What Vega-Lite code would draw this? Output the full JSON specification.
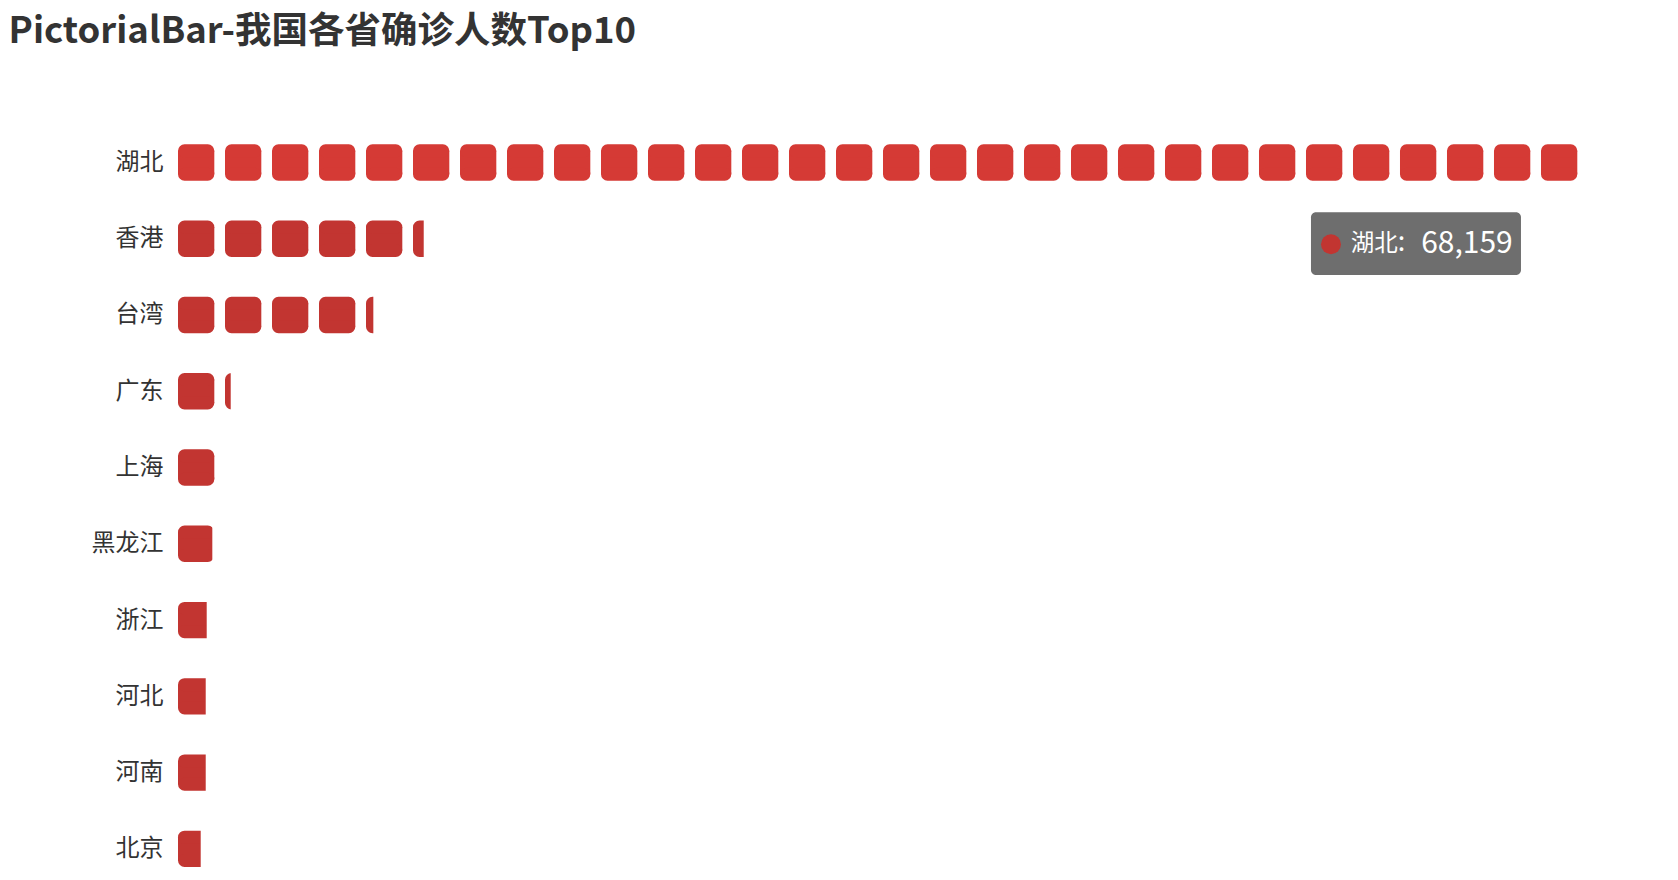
{
  "$schema": "https://vega.github.io/schema/vega-lite/v6.json",
  "autosize": {"type": "none"},
  "padding": {"left": 178, "top": 139.6, "right": 62, "bottom": 5},
  "width": 1438,
  "height": 732.1,
  "background": "white",
  "config": {"view": {"stroke": null}},
  "title": {
    "text": "PictorialBar-我国各省确诊人数Top10",
    "anchor": "start",
    "frame": "group",
    "dx": -169.4,
    "offset": 60.5,
    "baseline": "alphabetic",
    "font": "Noto Sans CJK SC",
    "fontSize": 36.5,
    "fontWeight": "bold",
    "color": "#333333"
  },
  "data": {
    "values": [
      {"province": "湖北", "value": 68159},
      {"province": "香港", "value": 11961},
      {"province": "台湾", "value": 9508},
      {"province": "广东", "value": 2566},
      {"province": "上海", "value": 2050},
      {"province": "黑龙江", "value": 1670},
      {"province": "浙江", "value": 1397},
      {"province": "河北", "value": 1349},
      {"province": "河南", "value": 1349},
      {"province": "北京", "value": 1105}
    ]
  },
  "layer": [
    {
      "mark": {"type": "rule", "strokeWidth": 23.3, "strokeCap": "butt", "strokeDash": [36.3, 10.7], "x2Offset": 36.3},
      "encoding": {
        "y": {
          "field": "province",
          "type": "nominal",
          "sort": null,
          "scale": {"type": "point", "padding": 0.3},
          "axis": {
            "title": null,
            "domain": false,
            "ticks": false,
            "grid": false,
            "labelPadding": 15,
            "labelFont": "Noto Sans CJK SC",
            "labelFontSize": 24,
            "labelColor": "#333333"
          }
        },
        "x": {"datum": 0, "type": "quantitative", "scale": {"domain": [0, 70000], "nice": false, "zero": true}, "axis": null},
        "x2": {"field": "value", "type": "quantitative"},
        "color": {"condition": {"test": "datum.province === '湖北'", "value": "#d53a35"}, "value": "#c23531"}
      }
    },
    {
      "mark": {"type": "rule", "strokeWidth": 13, "strokeCap": "round", "strokeDash": [23.3, 23.7], "xOffset": 6.5, "x2Offset": 29.8, "yOffset": -11.65},
      "encoding": {
        "y": {"field": "province", "type": "nominal", "sort": null},
        "x": {"datum": 0, "type": "quantitative"},
        "x2": {"field": "value", "type": "quantitative"},
        "color": {"condition": {"test": "datum.province === '湖北'", "value": "#d53a35"}, "value": "#c23531"}
      }
    },
    {
      "mark": {"type": "rule", "strokeWidth": 13, "strokeCap": "round", "strokeDash": [23.3, 23.7], "xOffset": 6.5, "x2Offset": 29.8, "yOffset": 11.65},
      "encoding": {
        "y": {"field": "province", "type": "nominal", "sort": null},
        "x": {"datum": 0, "type": "quantitative"},
        "x2": {"field": "value", "type": "quantitative"},
        "color": {"condition": {"test": "datum.province === '湖北'", "value": "#d53a35"}, "value": "#c23531"}
      }
    },
    {
      "mark": {"type": "bar", "height": 42, "x2Offset": 42, "color": "white"},
      "encoding": {
        "y": {"field": "province", "type": "nominal", "sort": null},
        "x": {"field": "value", "type": "quantitative"},
        "x2": {"field": "value", "type": "quantitative"}
      }
    },
    {
      "transform": [{"filter": "datum.province === '湖北'"}],
      "mark": {"type": "bar", "height": 62.7, "xOffset": -267.2, "x2Offset": -57.2, "yOffset": 81.2, "cornerRadius": 5, "color": "#6e6e6e"},
      "encoding": {
        "y": {"field": "province", "type": "nominal", "sort": null},
        "x": {"field": "value", "type": "quantitative"},
        "x2": {"field": "value", "type": "quantitative"}
      }
    },
    {
      "transform": [{"filter": "datum.province === '湖北'"}],
      "mark": {"type": "point", "shape": "circle", "filled": true, "size": 400, "opacity": 1, "color": "#c23531", "xOffset": -247.2, "yOffset": 81.8},
      "encoding": {
        "y": {"field": "province", "type": "nominal", "sort": null},
        "x": {"field": "value", "type": "quantitative"}
      }
    },
    {
      "transform": [{"filter": "datum.province === '湖北'"}],
      "mark": {"type": "text", "align": "left", "baseline": "middle", "font": "Noto Sans CJK SC", "fontSize": 23.5, "color": "white", "xOffset": -227.5, "yOffset": 81.8},
      "encoding": {
        "y": {"field": "province", "type": "nominal", "sort": null},
        "x": {"field": "value", "type": "quantitative"},
        "text": {"field": "province", "type": "nominal"}
      }
    },
    {
      "transform": [{"filter": "datum.province === '湖北'"}],
      "mark": {"type": "text", "align": "left", "baseline": "middle", "font": "Noto Sans CJK SC", "fontSize": 27, "color": "white", "xOffset": -180.5, "yOffset": 80.5, "text": ":"},
      "encoding": {
        "y": {"field": "province", "type": "nominal", "sort": null},
        "x": {"field": "value", "type": "quantitative"}
      }
    },
    {
      "transform": [{"filter": "datum.province === '湖北'"}],
      "mark": {"type": "text", "align": "left", "baseline": "middle", "font": "Noto Sans CJK SC", "fontSize": 30, "color": "white", "xOffset": -157, "yOffset": 81.8},
      "encoding": {
        "y": {"field": "province", "type": "nominal", "sort": null},
        "x": {"field": "value", "type": "quantitative"},
        "text": {"field": "value", "type": "quantitative", "format": ","}
      }
    }
  ]
}
